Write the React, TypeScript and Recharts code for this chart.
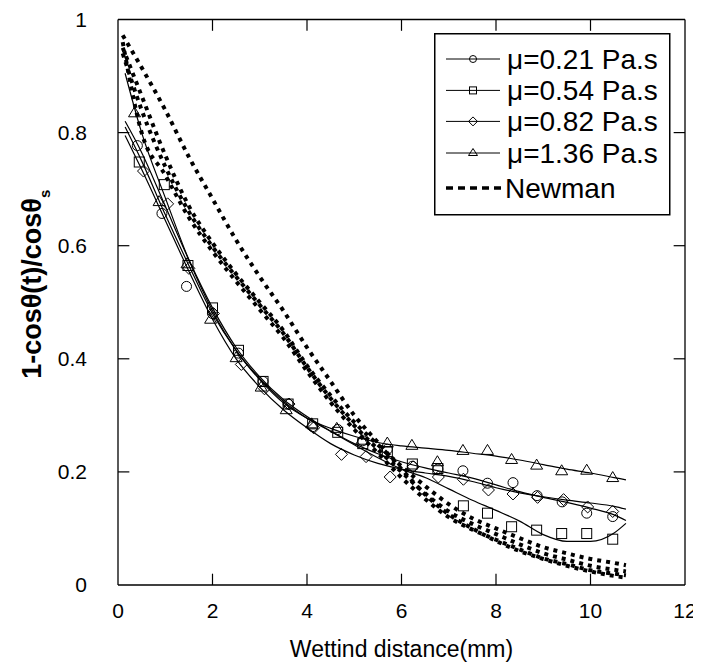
import { ComposedChart, Line, Scatter, XAxis, YAxis, ReferenceLine, Legend } from "recharts"

const FONT = "'Liberation Sans', Arial, Helvetica, sans-serif"

const xTicks = [0, 2, 4, 6, 8, 10, 12]
const yTicks = [0, 0.2, 0.4, 0.6, 0.8, 1]
const innerX = [2, 4, 6, 8, 10]
const innerY = [0.2, 0.4, 0.6, 0.8]

const seriesNames = ["μ=0.21 Pa.s", "μ=0.54 Pa.s", "μ=0.82 Pa.s", "μ=1.36 Pa.s", "Newman"]
const seriesMarkers = ["circle", "square", "diamond", "triangle"]

// measured points
const circleX = [0.41, 0.93, 1.45, 2.0, 2.55, 3.07, 3.6, 4.12, 4.65, 5.18, 5.7, 6.23, 6.77, 7.3, 7.82, 8.36, 8.87, 9.4, 9.92, 10.47]
const circleY = [0.777, 0.657, 0.528, 0.48, 0.41, 0.36, 0.32, 0.28, 0.275, 0.255, 0.24, 0.21, 0.205, 0.202, 0.18, 0.181, 0.158, 0.147, 0.127, 0.121]

const squareX = [0.45, 0.98, 1.48, 2.0, 2.55, 3.07, 3.6, 4.12, 4.65, 5.18, 5.7, 6.23, 6.77, 7.31, 7.82, 8.33, 8.86, 9.39, 9.92, 10.47]
const squareY = [0.748, 0.708, 0.565, 0.49, 0.415, 0.36, 0.32, 0.285, 0.27, 0.25, 0.236, 0.214, 0.206, 0.14, 0.127, 0.103, 0.097, 0.091, 0.091, 0.081]

const diamondX = [0.54, 1.05, 1.5, 2.02, 2.61, 3.1, 3.62, 4.14, 4.73, 5.25, 5.76, 6.25, 6.78, 7.31, 7.84, 8.36, 8.88, 9.43, 9.94, 10.47]
const diamondY = [0.732, 0.674, 0.56, 0.48, 0.39, 0.347, 0.32, 0.278, 0.231, 0.227, 0.191, 0.209, 0.191, 0.187, 0.168, 0.161, 0.155, 0.151, 0.138, 0.13]

const triangleX = [0.35, 0.87, 1.46, 1.96, 2.5, 3.03, 3.56, 4.1, 4.63, 5.16, 5.7, 6.22, 6.76, 7.3, 7.82, 8.33, 8.86, 9.39, 9.92, 10.47]
const triangleY = [0.835, 0.678, 0.568, 0.47, 0.402, 0.35, 0.31, 0.285, 0.277, 0.256, 0.251, 0.247, 0.218, 0.238, 0.238, 0.222, 0.212, 0.202, 0.203, 0.19]

// fitted curves
const fitX = [0.15, 0.5, 1, 1.5, 2, 2.5, 3, 3.5, 4, 4.5, 5, 5.5, 6, 6.5, 7, 7.5, 8, 8.5, 9, 9.5, 10, 10.5, 10.75]
const fit021 = [0.81, 0.75, 0.655, 0.565, 0.48, 0.415, 0.365, 0.325, 0.295, 0.272, 0.25, 0.232, 0.218, 0.207, 0.198, 0.189, 0.177, 0.165, 0.155, 0.146, 0.136, 0.124, 0.114]
const fit054 = [0.82, 0.765, 0.67, 0.575, 0.49, 0.42, 0.368, 0.328, 0.298, 0.272, 0.248, 0.225, 0.205, 0.19, 0.17, 0.15, 0.132, 0.113, 0.089, 0.077, 0.077, 0.092, 0.109]
const fit082 = [0.795, 0.735, 0.645, 0.555, 0.47, 0.4, 0.35, 0.31, 0.278, 0.25, 0.23, 0.215, 0.205, 0.198, 0.192, 0.183, 0.172, 0.163, 0.156, 0.15, 0.145, 0.139, 0.134]
const fit136 = [0.905, 0.8, 0.685, 0.575, 0.485, 0.415, 0.363, 0.322, 0.295, 0.277, 0.263, 0.252, 0.246, 0.242, 0.238, 0.233, 0.228, 0.221, 0.213, 0.205, 0.198, 0.19, 0.186]

// Newman model curves
const newmanX = [0.1, 0.5, 1, 1.5, 2, 2.5, 3, 3.5, 4, 4.5, 5, 5.5, 6, 6.5, 7, 7.5, 8, 8.5, 9, 9.5, 10, 10.5, 10.75]
const newman1 = [0.972, 0.915, 0.84, 0.757, 0.683, 0.61, 0.545, 0.485, 0.42, 0.36, 0.3, 0.252, 0.205, 0.16, 0.125, 0.1, 0.078, 0.06, 0.046, 0.034, 0.024, 0.016, 0.013]
const newman2 = [0.95, 0.865, 0.76, 0.67, 0.605, 0.55, 0.5, 0.45, 0.388, 0.335, 0.288, 0.248, 0.21, 0.175, 0.143, 0.118, 0.1, 0.083, 0.067, 0.056, 0.046, 0.039, 0.035]
const newman3 = [0.94, 0.84, 0.74, 0.66, 0.598, 0.545, 0.495, 0.445, 0.385, 0.33, 0.282, 0.24, 0.2, 0.162, 0.13, 0.108, 0.09, 0.072, 0.056, 0.045, 0.034, 0.027, 0.024]
const newman4 = [0.96, 0.8, 0.725, 0.65, 0.59, 0.537, 0.487, 0.437, 0.378, 0.323, 0.275, 0.233, 0.19, 0.152, 0.12, 0.098, 0.08, 0.063, 0.047, 0.037, 0.026, 0.02, 0.017]

function pts(xs: number[], ys: number[]) {
  return xs.map((x, i) => ({ x, y: ys[i] }))
}

const markerSets = [
  pts(circleX, circleY),
  pts(squareX, squareY),
  pts(diamondX, diamondY),
  pts(triangleX, triangleY),
]
const fits = [fit021, fit054, fit082, fit136].map((ys) => pts(fitX, ys))
const newmans = [newman1, newman2, newman3, newman4].map((ys) => pts(newmanX, ys))

function Marker({ kind, cx, cy, s }: { kind: string; cx: number; cy: number; s: number }) {
  const h = s / 2
  const common = { fill: "none", stroke: "#000", strokeWidth: 1 }
  if (kind === "circle") return <circle cx={cx} cy={cy} r={h} {...common} />
  if (kind === "square") return <rect x={cx - h} y={cy - h} width={s} height={s} {...common} />
  if (kind === "diamond")
    return <polygon points={`${cx},${cy - h - 1} ${cx + h + 1},${cy} ${cx},${cy + h + 1} ${cx - h - 1},${cy}`} {...common} />
  return <polygon points={`${cx},${cy - h - 1} ${cx + h + 1},${cy + h - 1} ${cx - h - 1},${cy + h - 1}`} {...common} />
}

const renderYLabel = (props: any) => {
  const vb = props.viewBox
  const cx = vb.x + 33
  const cy = vb.y + vb.height / 2 - 18
  return (
    <text
      x={cx}
      y={cy}
      transform={`rotate(-90 ${cx} ${cy})`}
      textAnchor="middle"
      fontWeight="bold"
      fontSize={27}
      fontFamily={FONT}
      fill="#000"
    >
      1-cosθ(t)/cosθ
      <tspan fontSize={15} dy={9}>
        s
      </tspan>
    </text>
  )
}

function LegendBox() {
  const rows = [26, 57.4, 88.4, 120, 155]
  return (
    <svg width={237} height={183} style={{ display: "block" }}>
      <rect x={0.75} y={0.75} width={235} height={181} fill="#fff" stroke="#000" strokeWidth={1.5} />
      {rows.map((ry, i) => (
        <g key={i}>
          {i < 4 ? (
            <>
              <line x1={12} x2={66} y1={ry} y2={ry} stroke="#000" strokeWidth={1} />
              <Marker kind={seriesMarkers[i]} cx={39} cy={ry} s={7} />
            </>
          ) : (
            <line x1={12} x2={70} y1={ry} y2={ry} stroke="#000" strokeWidth={3.5} strokeDasharray="7 5" />
          )}
          <text x={i < 4 ? 73 : 71} y={ry + 10} fontSize={28} fontFamily={FONT} fill="#000">
            {seriesNames[i]}
          </text>
        </g>
      ))}
    </svg>
  )
}

export default function App() {
  return (
    <div style={{ width: 693, height: 655 }}>
      <ComposedChart width={693} height={655} margin={{ top: 11.5, right: 16, bottom: 0, left: 0 }}>
        <XAxis
          type="number"
          dataKey="x"
          domain={[0, 12]}
          ticks={xTicks}
          interval={0}
          allowDataOverflow
          height={78}
          tickLine={false}
          tickMargin={12}
          axisLine={{ stroke: "#000", strokeWidth: 1.3 }}
          tick={{ fill: "#000", fontSize: 21, fontFamily: FONT }}
          label={{ value: "Wettind distance(mm)", position: "insideBottom", offset: 6, fill: "#000", fontSize: 23, fontFamily: FONT }}
        />
        <YAxis
          type="number"
          dataKey="y"
          domain={[0, 1]}
          ticks={yTicks}
          interval={0}
          allowDataOverflow
          width={110}
          tickLine={false}
          tickMargin={25}
          axisLine={{ stroke: "#000", strokeWidth: 1.3 }}
          tick={{ fill: "#000", fontSize: 21, fontFamily: FONT }}
          label={renderYLabel}
        />
        <ReferenceLine x={12} stroke="#000" strokeWidth={1.3} />
        <ReferenceLine y={1} stroke="#000" strokeWidth={1.3} />
        {innerX.map((t) => (
          <ReferenceLine key={`b${t}`} segment={[{ x: t, y: 0 }, { x: t, y: 0.02 }]} stroke="#000" strokeWidth={1.2} />
        ))}
        {innerX.map((t) => (
          <ReferenceLine key={`t${t}`} segment={[{ x: t, y: 1 }, { x: t, y: 0.98 }]} stroke="#000" strokeWidth={1.2} />
        ))}
        {innerY.map((t) => (
          <ReferenceLine key={`l${t}`} segment={[{ x: 0, y: t }, { x: 0.24, y: t }]} stroke="#000" strokeWidth={1.2} />
        ))}
        {innerY.map((t) => (
          <ReferenceLine key={`r${t}`} segment={[{ x: 12, y: t }, { x: 11.76, y: t }]} stroke="#000" strokeWidth={1.2} />
        ))}
        {newmans.map((d, i) => (
          <Line
            key={`n${i}`}
            data={d}
            dataKey="y"
            type="monotone"
            stroke="#000"
            strokeWidth={4}
            strokeDasharray="4 5"
            dot={false}
            isAnimationActive={false}
          />
        ))}
        {fits.map((d, i) => (
          <Line
            key={`f${i}`}
            data={d}
            dataKey="y"
            type="monotone"
            stroke="#000"
            strokeWidth={1.2}
            dot={false}
            isAnimationActive={false}
          />
        ))}
        {markerSets.map((d, i) => (
          <Scatter
            key={`m${i}`}
            data={d}
            dataKey="y"
            isAnimationActive={false}
            shape={(p: any) => <Marker kind={seriesMarkers[i]} cx={p.cx} cy={p.cy} s={10} />}
          />
        ))}
        <Legend
          layout="vertical"
          align="center"
          verticalAlign="middle"
          wrapperStyle={{ position: "absolute", left: 426, top: 25, width: 237, height: 183, margin: 0 }}
          content={() => <LegendBox />}
        />
      </ComposedChart>
    </div>
  )
}
